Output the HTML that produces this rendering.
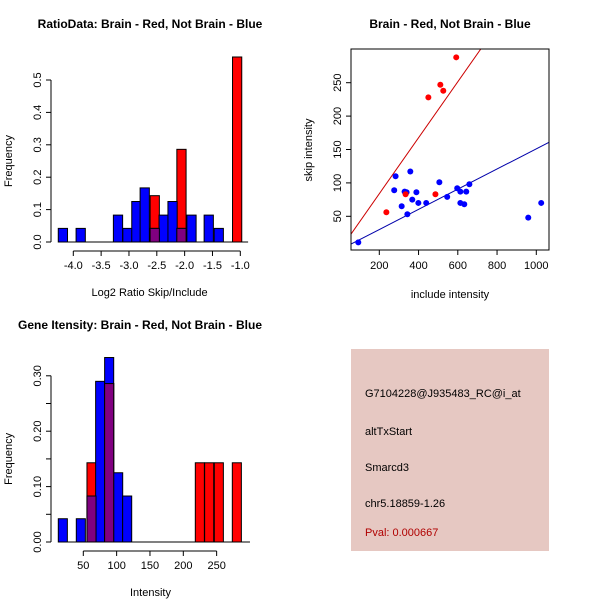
<!DOCTYPE html>
<html><head><meta charset="utf-8"><style>
body{margin:0;background:#fff}
svg text{font-family:"Liberation Sans",sans-serif;font-size:11px;fill:#000}
.t{font-weight:bold;font-size:12px}
</style></head><body>
<svg id="s" width="600" height="600" xmlns="http://www.w3.org/2000/svg">
<rect width="600" height="600" fill="#fff"/>
<text class="t" x="150" y="28" text-anchor="middle">RatioData: Brain - Red, Not Brain - Blue</text>
<text class="t" x="450" y="28" text-anchor="middle">Brain - Red, Not Brain - Blue</text>
<text class="t" x="140" y="329" text-anchor="middle">Gene Itensity: Brain - Red, Not Brain - Blue</text>
<g id="p1"></g>
<g id="p2"></g>
<g id="p3"></g>
<g>
<rect x="351" y="349" width="198" height="202" fill="#e6c8c2"/>
<text x="365" y="397">G7104228@J935483_RC@i_at</text>
<text x="365" y="435">altTxStart</text>
<text x="365" y="471">Smarcd3</text>
<text x="365" y="507">chr5.18859-1.26</text>
<text x="365" y="536" style="fill:#b00000">Pval: 0.000667</text>
</g>
</svg>
<script>
// Ratio histogram data
const r1BlueBins=[-4.27,-3.95,-3.28,-3.11,-2.95,-2.80,-2.62,-2.46,-2.30,-2.14,-1.96,-1.65,-1.47];
const r1BlueVals=[0.042,0.042,0.083,0.042,0.125,0.167,0.042,0.083,0.125,0.042,0.083,0.083,0.042];
const r1RedBins=[-2.62,-2.14,-1.14];
const r1RedVals=[0.143,0.286,0.571];
const r1XTicks=[-4.0,-3.5,-3.0,-2.5,-2.0,-1.5,-1.0];
const r1YTicks=[0,0.1,0.2,0.3,0.4,0.5];
// Scatter data
const blueInc=[93,276,283,358,314,329,339,343,368,389,399,439,506,546,597,613,613,633,643,659,959,1025];
const blueSkip=[11,89,110,117,65,87,86,53,75,86,70,70,101,79,92,87,70,68,87,98,48,70];
const redInc=[236,334,450,486,511,526,592];
const redSkip=[56,83,228,83,247,238,288];
const redSlope=0.419, blueSlope=0.151;
const sXTicks=[200,400,600,800,1000];
const sYTicks=[50,100,150,200,250];
// Intensity histogram data
const r3BlueBins=[12.5,39.5,55.5,68.5,82,95.5,109];
const r3BlueVals=[0.042,0.042,0.083,0.29,0.333,0.125,0.083];
const r3RedBins=[55.5,82,218,232,246.5,273.5];
const r3RedVals=[0.143,0.286,0.143,0.143,0.143,0.143];
const r3XTicks=[50,100,150,200,250];
const r3YTicks=[0,0.05,0.10,0.15,0.20,0.25,0.30];
const r3YLabels=["0.00","","0.10","","0.20","","0.30"];

const NS="http://www.w3.org/2000/svg";
function mk(parent,tag,attrs){const e=document.createElementNS(NS,tag);for(const k in attrs)e.setAttribute(k,attrs[k]);parent.appendChild(e);return e;}
function txt(parent,x,y,s,anchor,rot){const t=mk(parent,'text',{x:x,y:y,'text-anchor':anchor||'middle'});if(rot)t.setAttribute('transform','rotate(-90 '+x+' '+y+')');t.textContent=s;return t;}

function hist(g,o){
  const X=v=>o.x0+(v-o.xa)*o.xs, Y=v=>o.y0-v*o.ys;
  const w=o.bw*o.xs;
  function bar(b,v,col,name){const r=mk(g,'rect',{x:X(b),y:Y(v),width:w,height:v*o.ys,fill:col,stroke:'#000','stroke-width':1});
    
    }
  o.rb.forEach((b,i)=>bar(b,o.rv[i],'#ff0000','red-bar'));
  o.bb.forEach((b,i)=>bar(b,o.bv[i],'#0000ff','blue-bar'));
  o.rb.forEach((b,i)=>{const j=o.bb.findIndex(q=>Math.abs(q-b)<0.5*o.bw);if(j>=0){bar(b,Math.min(o.rv[i],o.bv[j]),'#800080','overlap-bar');}});
  // x axis
  const xa=mk(g,'g',{});
  
  
  const xt=o.xt;mk(xa,'line',{x1:X(xt[0]),x2:X(xt[xt.length-1]),y1:o.axY,y2:o.axY,stroke:'#000'});
  xt.forEach(v=>{mk(xa,'line',{x1:X(v),x2:X(v),y1:o.axY,y2:o.axY+5,stroke:'#000'});txt(xa,X(v),o.axY+18,o.xl?o.xl(v):String(v));});
  mk(g,'line',{x1:o.x0+(o.bxa-o.xa)*o.xs,x2:o.x0+(o.bxb-o.xa)*o.xs,y1:o.y0,y2:o.y0,stroke:'#000'});
  const ya=mk(g,'g',{});
  
  
  const yt=o.yt;mk(ya,'line',{x1:o.axX,x2:o.axX,y1:Y(yt[0]),y2:Y(yt[yt.length-1]),stroke:'#000'});
  yt.forEach((v,i)=>{mk(ya,'line',{x1:o.axX-5,x2:o.axX,y1:Y(v),y2:Y(v),stroke:'#000'});const l=o.yl?o.yl[i]:v.toFixed(1);if(l)txt(ya,o.axX-10,Y(v),l,'middle',true);});
  const xl=txt(g,(o.x0+(o.bxb-o.xa)*o.xs+o.axX)/2,o.axY+45,o.xlab);
  
  
  const yl=txt(g,12,(Y(yt[0])+Y(yt[yt.length-1]))/2,'Frequency','middle',true);
  
  
}
hist(document.getElementById('p1'),{x0:73.3,xa:-4,xs:55.67,y0:242,ys:324,bw:0.166,
  bb:r1BlueBins,bv:r1BlueVals,rb:r1RedBins,rv:r1RedVals,xt:r1XTicks,yt:r1YTicks,axY:251,axX:51,
  bxa:-4.27,bxb:-0.86,xl:v=>v.toFixed(1),xlab:'Log2 Ratio Skip/Include'});
hist(document.getElementById('p3'),{x0:83.3,xa:50,xs:0.6667,y0:542,ys:554,bw:13.6,
  bb:r3BlueBins,bv:r3BlueVals,rb:r3RedBins,rv:r3RedVals,xt:r3XTicks,yt:r3YTicks,yl:r3YLabels,axY:551,axX:51,
  bxa:12.5,bxb:300,xlab:'Intensity'});

// scatter
(function(){
  const g=document.getElementById('p2');
  const L=351,R=549,T=49,B=250;
  const X=v=>379.3+(v-200)*0.19625, Y=v=>216.3-(v-50)*0.668;
  const cp=mk(g,'clipPath',{id:'cp'});mk(cp,'rect',{x:L,y:T,width:R-L,height:B-T});
  const lg=mk(g,'g',{'clip-path':'url(#cp)'});
  const rl=mk(lg,'line',{x1:X(0),y1:Y(0),x2:X(1200),y2:Y(1200*redSlope),stroke:'#cc0000'});
  
  
  const bl=mk(lg,'line',{x1:X(0),y1:Y(0),x2:X(1200),y2:Y(1200*blueSlope),stroke:'#0000aa'});
  
  
  blueInc.forEach((v,i)=>{const c=mk(g,'circle',{cx:X(v),cy:Y(blueSkip[i]),r:3,fill:'#0000ff'});
    
    });
  redInc.forEach((v,i)=>{const c=mk(g,'circle',{cx:X(v),cy:Y(redSkip[i]),r:3,fill:'#ff0000'});
    
    });
  mk(g,'rect',{x:L,y:T,width:R-L,height:B-T,fill:'none',stroke:'#000'});
  const xa=mk(g,'g',{});
  
  
  sXTicks.forEach(v=>{mk(xa,'line',{x1:X(v),x2:X(v),y1:B,y2:B+5,stroke:'#000'});txt(xa,X(v),B+19,String(v));});
  const ya=mk(g,'g',{});
  
  
  sYTicks.forEach(v=>{mk(ya,'line',{x1:L-5,x2:L,y1:Y(v),y2:Y(v),stroke:'#000'});txt(ya,L-10,Y(v),String(v),'middle',true);});
  const xl=txt(g,450,298,'include intensity');
  
  
  const yl=txt(g,312,150,'skip intensity','middle',true);
  
  
})();
</script>
</body></html>
